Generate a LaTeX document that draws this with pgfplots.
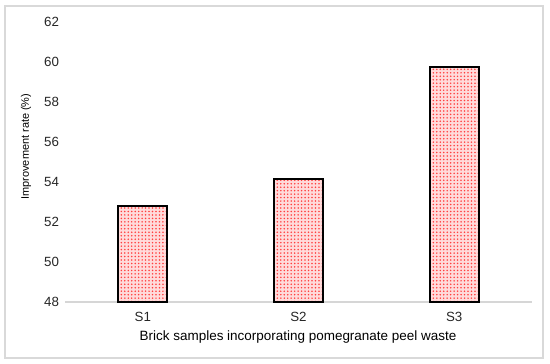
\documentclass[border=0pt]{standalone}
\usepackage{fontspec}
\setmainfont{Liberation Sans}
\usepackage{pgfplots}
\pgfplotsset{compat=1.18}
\usetikzlibrary{patterns.meta}
\begin{document}
\begin{tikzpicture}
\path (0,0) rectangle (412.5pt,273pt);
\draw[black!15, line width=0.9pt] (3.75pt,4.5pt) rectangle (407.25pt,268.5pt);
\begin{axis}[
  at={(48.75pt,46.5pt)}, anchor=south west,
  scale only axis, width=350.25pt, height=210pt,
  xmin=-0.5, xmax=2.5, ymin=48, ymax=62,
  ytick={48,50,...,62}, xtick={0,1,2}, xticklabels={S1,S2,S3},
  axis lines*=left,
  x axis line style={black!16, line width=1.3pt},
  y axis line style={draw=none},
  major tick length=0pt,
  tick style={draw=none},
  /pgf/number format/assume math mode=true,
  ticklabel style={font=\fontsize{10}{12}\selectfont, text=black!85},
  yticklabel style={xshift=-1pt},
  xticklabel style={yshift=-4pt},
  every axis x label/.style={at={(axis description cs:0.499,-0.125)}, anchor=center},
  every axis y label/.style={at={(axis description cs:-0.0835,0.555)}, rotate=90, anchor=center},
  xlabel={\fontsize{10.1}{12}\selectfont Brick samples incorporating pomegranate peel waste},
  ylabel={\fontsize{8.2}{10}\selectfont Improvement rate (\%)},
  ybar, bar width=36.75pt,
  clip=false,
]
\addplot[draw=black, line width=1.5pt, fill=red!14,
  postaction={pattern={Dots[distance=2.6pt,radius=0.65pt]}, pattern color=red!75},
  bar shift=0pt] coordinates {(0,52.8) (1,54.15) (2,59.75)};
\end{axis}
\end{tikzpicture}
\end{document}
